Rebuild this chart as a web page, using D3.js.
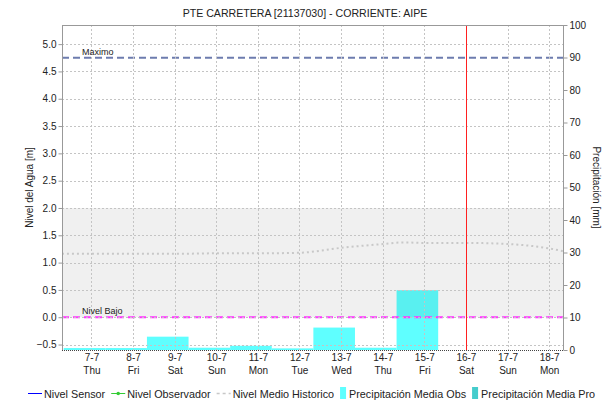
<!DOCTYPE html>
<html>
<head>
<meta charset="utf-8">
<script src="https://cdn.jsdelivr.net/npm/d3@7"></script>
<style>
  html, body { margin: 0; padding: 0; background: #fff; }
  svg { display: block; font-family: "Liberation Sans", Arial, sans-serif; }
</style>
</head>
<body>
<svg id="chart" width="610" height="404"></svg>
<script>
// Station and series
const chartTitle = "PTE CARRETERA [21137030] - CORRIENTE: AIPE";
const dayLabels = ["7-7", "8-7", "9-7", "10-7", "11-7", "12-7", "13-7", "14-7", "15-7", "16-7", "17-7", "18-7"];
const weekdayLabels = ["Thu", "Fri", "Sat", "Sun", "Mon", "Tue", "Wed", "Thu", "Fri", "Sat", "Sun", "Mon"];
const tickDays = [7, 8, 9, 10, 11, 12, 13, 14, 15, 16, 17, 18];

// Daily precipitation (mm), accumulated up to 08:00 of each day
const precipDays = [7, 8, 9, 10, 11, 12, 13, 14, 15];
const precipObs = [0.6, 0.6, 4.1, 0.7, 1.3, 0.5, 6.9, 0.7, 18.4];
const precipPro = [];

// Historic mean level (m)
const histDays = [6.29, 7, 8, 9, 10, 11, 12, 13, 14, 14.5, 15, 16, 17, 18, 18.33];
const histLevel = [1.16, 1.16, 1.16, 1.16, 1.17, 1.17, 1.18, 1.27, 1.34, 1.37, 1.36, 1.36, 1.34, 1.26, 1.21];

// Sensor and observer readings (none in this period)
const sensorLevel = [];
const observerLevel = [];

// Reference levels (m)
const levelMax = 4.75;
const levelLow = 0.0;
const bandTop = 2.0;
const bandBottom = 0.0;
const currentDay = 16;

const leftTicks = [-0.5, 0, 0.5, 1, 1.5, 2, 2.5, 3, 3.5, 4, 4.5, 5];
const rightTicks = [0, 10, 20, 30, 40, 50, 60, 70, 80, 90, 100];

const legendItems = [
  { label: "Nivel Sensor", type: "line", color: "#0000ff" },
  { label: "Nivel Observador", type: "marker", color: "#33cc33" },
  { label: "Nivel Medio Historico", type: "dash", color: "#c8c8c8" },
  { label: "Precipitación Media Obs", type: "box", color: "#5fffff" },
  { label: "Precipitación Media Pro", type: "box", color: "#45cccc" }
];

const dayDate = d => new Date(2022, 6, 1, 0, 0).getTime() + (d - 1) * 864e5;

const svg = d3.select("#chart");
const plot = { left: 62, right: 563, top: 25, bottom: 350 };

const x = d3.scaleTime()
  .domain([new Date(dayDate(6) + 7 * 36e5), new Date(dayDate(18) + 8 * 36e5)])
  .range([plot.left, plot.right]);
const yL = d3.scaleLinear().domain([-0.6, 5.35]).range([plot.bottom, plot.top]);
const yR = d3.scaleLinear().domain([0, 100]).range([plot.bottom, plot.top]);

svg.append("defs").append("clipPath").attr("id", "clip")
  .append("rect")
  .attr("x", plot.left).attr("y", plot.top)
  .attr("width", plot.right - plot.left).attr("height", plot.bottom - plot.top);

const g = svg.append("g").attr("clip-path", "url(#clip)");

// Precipitation bars: each covers previous day 08:00 to the day's 08:00
const barData = precipDays.map((d, i) => ({ day: d, v: precipObs[i] }));
const barStart = d => x(new Date(dayDate(d.day - 1) + 8 * 36e5));
const barEnd = d => x(new Date(dayDate(d.day) + 8 * 36e5));
g.selectAll("rect.obs").data(barData).join("rect")
  .attr("class", "obs")
  .attr("x", barStart)
  .attr("width", d => barEnd(d) - barStart(d))
  .attr("y", d => yR(d.v))
  .attr("height", d => yR(0) - yR(d.v))
  .attr("fill", "#5fffff");

g.selectAll("rect.pro").data(precipPro).join("rect")
  .attr("class", "pro")
  .attr("fill", "#45cccc");

// Normal range band
g.append("rect")
  .attr("x", plot.left).attr("width", plot.right - plot.left)
  .attr("y", yL(bandTop)).attr("height", yL(bandBottom) - yL(bandTop))
  .attr("fill", "#000").attr("fill-opacity", 0.06);

// Grid
const grid = svg.append("g").attr("stroke", "#c4c4c4").attr("stroke-width", 1).attr("stroke-dasharray", "2,2");
grid.selectAll("line.h").data(leftTicks).join("line")
  .attr("x1", plot.left).attr("x2", plot.right)
  .attr("y1", d => Math.round(yL(d)) + 0.5).attr("y2", d => Math.round(yL(d)) + 0.5);
grid.selectAll("line.v").data(tickDays).join("line")
  .attr("y1", plot.top).attr("y2", plot.bottom)
  .attr("x1", d => Math.round(x(new Date(dayDate(d)))) + 0.5)
  .attr("x2", d => Math.round(x(new Date(dayDate(d)))) + 0.5);

// Historic mean level
const line = d3.line().curve(d3.curveMonotoneX)
  .x(d => x(new Date(dayDate(Math.floor(d[0])) + (d[0] - Math.floor(d[0])) * 864e5)))
  .y(d => yL(d[1]));
g.append("path")
  .datum(histDays.map((d, i) => [d, histLevel[i]]))
  .attr("d", line)
  .attr("fill", "none").attr("stroke", "#c8c8c8").attr("stroke-width", 2)
  .attr("stroke-dasharray", "2,3");

g.append("path").datum(sensorLevel).attr("d", line)
  .attr("fill", "none").attr("stroke", "#0000ff");
g.append("path").datum(observerLevel).attr("d", line)
  .attr("fill", "none").attr("stroke", "#33cc33");

// Threshold lines
g.append("line")
  .attr("x1", plot.left).attr("x2", plot.right)
  .attr("y1", yL(levelMax)).attr("y2", yL(levelMax))
  .attr("stroke", "#6d7cae").attr("stroke-width", 2).attr("stroke-dasharray", "7,4");
g.append("line")
  .attr("x1", plot.left).attr("x2", plot.right)
  .attr("y1", yL(levelLow)).attr("y2", yL(levelLow))
  .attr("stroke", "#ff33ff").attr("stroke-width", 2).attr("stroke-dasharray", "7,4");
svg.append("text").attr("x", 82).attr("y", yL(levelMax) - 3)
  .attr("font-size", 9).attr("fill", "#222").text("Maximo");
svg.append("text").attr("x", 82).attr("y", yL(levelLow) - 3)
  .attr("font-size", 9).attr("fill", "#222").text("Nivel Bajo");

// Current time marker
svg.append("line")
  .attr("x1", Math.round(x(new Date(dayDate(currentDay)))) + 0.5)
  .attr("x2", Math.round(x(new Date(dayDate(currentDay)))) + 0.5)
  .attr("y1", plot.top).attr("y2", plot.bottom)
  .attr("stroke", "#ff2020").attr("stroke-width", 1);

// Frame
svg.append("line").attr("x1", plot.left).attr("x2", plot.right)
  .attr("y1", plot.top + 0.5).attr("y2", plot.top + 0.5).attr("stroke", "#999");
svg.append("line").attr("x1", plot.left).attr("x2", plot.right)
  .attr("y1", plot.bottom + 0.5).attr("y2", plot.bottom + 0.5)
  .attr("stroke", "#444").attr("stroke-dasharray", "1,1");

// Left axis
const axL = svg.append("g").attr("transform", `translate(${plot.left + 0.5},0)`)
  .call(d3.axisLeft(yL).tickValues(leftTicks).tickFormat(d3.format(".1f")).tickSize(4).tickPadding(2));
axL.select(".domain").attr("stroke", "#999").attr("d", `M0,${plot.top}V${plot.bottom}`);
axL.selectAll(".tick line").attr("stroke", "#999");
axL.selectAll(".tick text").attr("font-size", 10).attr("fill", "#222").attr("font-family", null);

// Right axis
const axR = svg.append("g").attr("transform", `translate(${plot.right + 0.5},0)`)
  .call(d3.axisRight(yR).tickValues(rightTicks).tickFormat(d3.format("d")).tickSize(4).tickPadding(2));
axR.select(".domain").attr("stroke", "#999").attr("d", `M0,${plot.top}V${plot.bottom}`);
axR.selectAll(".tick line").attr("stroke", "#999");
axR.selectAll(".tick text").attr("font-size", 10).attr("fill", "#222").attr("font-family", null);

// Bottom axis: date and weekday
const axB = svg.append("g").attr("transform", `translate(0,${plot.bottom})`)
  .call(d3.axisBottom(x).tickValues(tickDays.map(d => new Date(dayDate(d)))).tickSize(0).tickFormat((d, i) => dayLabels[i]));
axB.select(".domain").remove();
axB.selectAll(".tick text").each(function(d, i) {
  const t = d3.select(this).text(null).attr("font-size", 10).attr("fill", "#222").attr("font-family", null).attr("y", 0).attr("dy", null);
  t.append("tspan").attr("x", 0).attr("y", 11).text(dayLabels[i]);
  t.append("tspan").attr("x", 0).attr("y", 24).text(weekdayLabels[i]);
});

// Titles
svg.append("text").attr("x", 305).attr("y", 17).attr("text-anchor", "middle")
  .attr("font-size", 10.6).attr("fill", "#222").text(chartTitle);
svg.append("text").attr("transform", `translate(33,${(plot.top + plot.bottom) / 2}) rotate(-90)`)
  .attr("text-anchor", "middle").attr("font-size", 10).attr("fill", "#222").text("Nivel del Agua [m]");
svg.append("text").attr("transform", `translate(593,${(plot.top + plot.bottom) / 2}) rotate(90)`)
  .attr("text-anchor", "middle").attr("font-size", 10).attr("fill", "#222").text("Precipitación [mm]");

// Legend
const legend = svg.append("g").attr("font-size", 10.8).attr("fill", "#222");
let lx = 28;
const ly = 395;
legendItems.forEach(item => {
  const it = legend.append("g");
  let sw;
  if (item.type === "box") {
    it.append("rect").attr("x", lx).attr("y", ly - 8).attr("width", 6).attr("height", 12).attr("fill", item.color);
    sw = 9;
  } else {
    it.append("line").attr("x1", lx).attr("x2", lx + 14).attr("y1", ly - 1.5).attr("y2", ly - 1.5)
      .attr("stroke", item.color).attr("stroke-width", item.type === "dash" ? 1.5 : 1)
      .attr("stroke-dasharray", item.type === "dash" ? "3,3" : null);
    if (item.type === "marker") {
      it.append("circle").attr("cx", lx + 7).attr("cy", ly - 1.5).attr("r", 1.8).attr("fill", item.color);
    }
    sw = 16;
  }
  const txt = it.append("text").attr("x", lx + sw).attr("y", ly + 3).text(item.label);
  lx += sw + txt.node().getComputedTextLength() + 6;
});
</script>
</body>
</html>
